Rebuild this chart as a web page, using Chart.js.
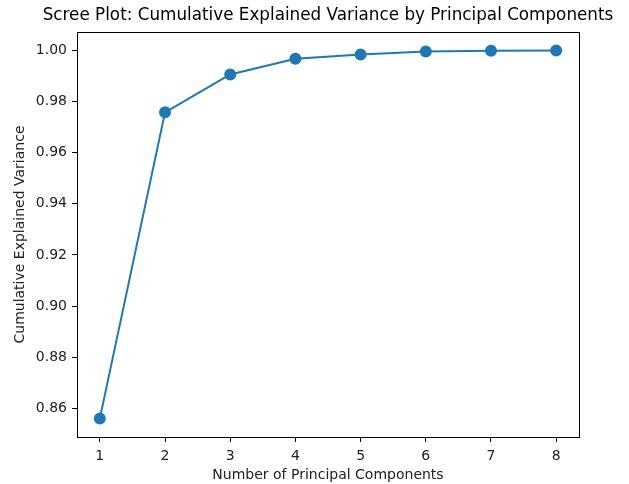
<!DOCTYPE html>
<html>
<head>
<meta charset="utf-8">
<script src="https://cdn.jsdelivr.net/npm/chart.js@4/dist/chart.umd.min.js"></script>
<style>
  html, body { margin: 0; padding: 0; background: #fff; }
  #wrap { width: 629px; height: 484px; }
</style>
</head>
<body>
<div id="wrap"><canvas id="screeChart"></canvas></div>
<script>
// Data
const components = [1, 2, 3, 4, 5, 6, 7, 8];
const cumulativeVariance = [0.856, 0.9758, 0.9906, 0.9967, 0.9984, 0.9996, 0.9999, 1.0];
const yTicks = [0.86, 0.88, 0.90, 0.92, 0.94, 0.96, 0.98, 1.00];
const chartTitle = "Scree Plot: Cumulative Explained Variance by Principal Components";

const FONT = "'DejaVu Sans', sans-serif";
const BLUE = "#1f77b4";

// matplotlib-style box around the plot area + title centred over the axes
const frameBox = {
  id: "frameBox",
  afterDraw(chart) {
    const { ctx, chartArea: a } = chart;
    ctx.save();
    ctx.strokeStyle = "#000";
    ctx.lineWidth = 1;
    ctx.strokeRect(a.left + 0.5, a.top + 0.5, a.right - a.left, a.bottom - a.top);

    ctx.fillStyle = "#000";
    ctx.font = "16.8px " + FONT;
    ctx.textAlign = "center";
    ctx.textBaseline = "middle";
    ctx.fillText(chartTitle, (a.left + a.right) / 2, 16);
    ctx.restore();
  }
};

new Chart(document.getElementById("screeChart"), {
  type: "line",
  data: {
    datasets: [{
      label: "Cumulative Explained Variance",
      data: components.map((c, i) => ({ x: c, y: cumulativeVariance[i] })),
      borderColor: BLUE,
      backgroundColor: BLUE,
      borderWidth: 2,
      tension: 0,
      pointRadius: 5,
      pointBackgroundColor: BLUE,
      pointBorderColor: BLUE
    }]
  },
  options: {
    responsive: true,
    maintainAspectRatio: false,
    animation: false,
    layout: { padding: { left: 0, right: 50, top: 32, bottom: 0 } },
    plugins: {
      legend: { display: false },
      tooltip: { enabled: false },
      title: { display: false }
    },
    scales: {
      x: {
        type: "linear",
        min: 0.65,
        max: 8.35,
        afterBuildTicks: s => { s.ticks = components.map(v => ({ value: v })); },
        afterFit: s => { s.height = 47; },
        grid: { drawOnChartArea: false, tickLength: 5, tickColor: "#000" },
        border: { color: "#000" },
        ticks: { color: "#222", font: { family: FONT, size: 14 }, padding: 6, maxRotation: 0 },
        title: {
          display: true,
          text: "Number of Principal Components",
          color: "#222",
          font: { family: FONT, size: 14 },
          padding: { top: 0, bottom: 0 }
        }
      },
      y: {
        min: 0.8488,
        max: 1.0072,
        afterBuildTicks: s => { s.ticks = yTicks.map(v => ({ value: v })); },
        afterFit: s => { s.width = 77; },
        grid: { drawOnChartArea: false, tickLength: 5, tickColor: "#000" },
        border: { color: "#000" },
        ticks: {
          color: "#222",
          font: { family: FONT, size: 14 },
          padding: 5,
          callback: v => v.toFixed(2)
        },
        title: {
          display: true,
          text: "Cumulative Explained Variance",
          color: "#222",
          font: { family: FONT, size: 14 },
          padding: { top: 12, bottom: 0 }
        }
      }
    }
  },
  plugins: [frameBox]
});
</script>
</body>
</html>
